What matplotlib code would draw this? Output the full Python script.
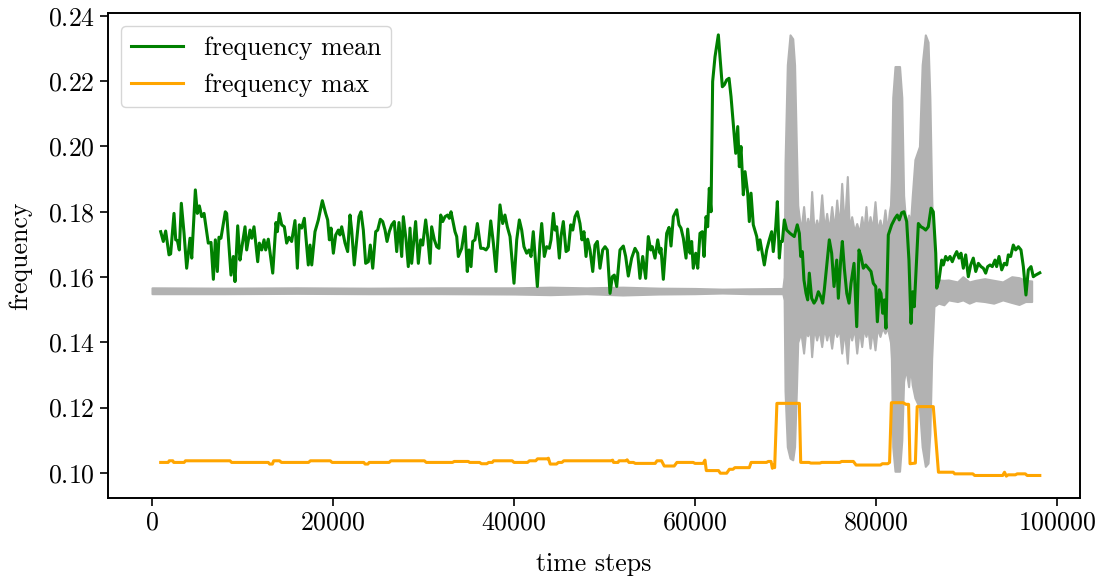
import matplotlib
matplotlib.use("Agg")
import matplotlib.pyplot as plt

plt.rcParams.update({
    "font.family": "serif",
    "font.serif": ["cmr10"],
    "mathtext.fontset": "cm",
    "axes.formatter.use_mathtext": True,
    "font.size": 18.6,
    "axes.unicode_minus": False,
})

# ---- raw frequency signal (grey), given as lower/upper envelope ----
gray_x = [0, 8000, 16000, 24000, 32000, 40000, 44000, 48000, 52000, 56000, 60000,
          63000, 66000, 69700, 69850, 69950, 70200, 70500, 70800, 71000, 71200, 71350,
          71700, 72000, 72250, 72450, 72700, 72890, 73150, 73440, 73700, 74000, 74280,
          74550, 74800, 75100, 75400, 75660, 75950, 76210, 76500, 76830, 77050, 77310,
          77600, 77870, 78150, 78420, 78650, 78890, 79100, 79340, 79600, 79890, 80150,
          80440, 80700, 80990, 81250, 81470, 81600, 81700, 81850, 82100, 82600, 82850,
          83050, 83300, 83600, 83800, 84000, 84300, 84800, 85100, 85450, 85750, 85950,
          86150, 86400, 86900, 87500, 88000, 89000, 89600, 90300, 91000,
          92000, 93000, 94000, 95000, 95800, 96500, 97200]
gray_lo = [0.1549, 0.1549, 0.1550, 0.1549, 0.1549, 0.1548, 0.1546, 0.1549, 0.1545, 0.1548, 0.1549,
           0.1551, 0.1549, 0.1549, 0.1530, 0.1250, 0.1080, 0.1045, 0.1040, 0.1080, 0.1250, 0.1400,
           0.1430, 0.1367, 0.1440, 0.1420, 0.1440, 0.1356, 0.1445, 0.1407, 0.1440, 0.1387, 0.1445,
           0.1407, 0.1440, 0.1382, 0.1445, 0.1418, 0.1440, 0.1367, 0.1440, 0.1336, 0.1440, 0.1407,
           0.1445, 0.1367, 0.1440, 0.1387, 0.1445, 0.1418, 0.1445, 0.1382, 0.1440, 0.1377, 0.1445,
           0.1418, 0.1445, 0.1428, 0.1445, 0.1418, 0.1400, 0.1350, 0.1080, 0.1005, 0.1005, 0.1100,
           0.1280, 0.1320, 0.1264, 0.1330, 0.1270, 0.1230, 0.1200, 0.1080, 0.1020, 0.1030, 0.1120,
           0.1350, 0.1510, 0.1520, 0.1515, 0.1530, 0.1525, 0.1530, 0.1520, 0.1528,
           0.1525, 0.1520, 0.1530, 0.1522, 0.1516, 0.1525, 0.1525]
gray_hi = [0.1567, 0.1566, 0.1567, 0.1566, 0.1567, 0.1567, 0.1569, 0.1567, 0.1569, 0.1566, 0.1565,
           0.1563, 0.1564, 0.1565, 0.1600, 0.1950, 0.2250, 0.2342, 0.2330, 0.2250, 0.2000, 0.1820,
           0.1740, 0.1816, 0.1740, 0.1780, 0.1745, 0.1862, 0.1740, 0.1775, 0.1745, 0.1852, 0.1745,
           0.1795, 0.1740, 0.1816, 0.1745, 0.1836, 0.1750, 0.1887, 0.1750, 0.1908, 0.1745, 0.1785,
           0.1740, 0.1764, 0.1735, 0.1785, 0.1740, 0.1816, 0.1740, 0.1785, 0.1745, 0.1831, 0.1740,
           0.1775, 0.1740, 0.1806, 0.1740, 0.1800, 0.1820, 0.1900, 0.2150, 0.2245, 0.2245, 0.2150,
           0.1850, 0.1760, 0.1790, 0.1760, 0.1846, 0.1960, 0.2000, 0.2250, 0.2342, 0.2320, 0.2150,
           0.1850, 0.1600, 0.1591, 0.1590, 0.1591, 0.1585, 0.1601, 0.1585, 0.1590,
           0.1595, 0.1590, 0.1585, 0.1601, 0.1598, 0.1590, 0.1588]

# ---- frequency mean (green) ----
mean_x = [960, 1250, 1510, 1880, 2060, 2430, 2620, 2800, 3020, 3240, 3540, 3830, 4200, 4390,
          4790, 5010, 5230, 5490, 5750, 6220, 6520, 6780, 7000, 7220, 7400, 7620, 8100, 8250,
          8430, 8730, 8990, 9170, 9470, 9720, 9910, 10280, 10460, 10830, 11020, 11270, 11680,
          11860, 12120, 12380, 12560, 12850, 13340, 13700, 13850, 14070, 14330, 14620, 14880,
          15140, 15430, 15800, 16060,
          16280, 16540, 16830, 17270, 17460, 17650, 18010, 18380, 18820, 19190, 19410, 19600,
          19780, 20040, 20300, 20590, 20770, 20960, 21330, 21620, 21880, 22060, 22350, 22620,
          22870, 23090, 23350, 23610, 23900, 24120, 24390, 24720, 24940, 25230, 25490, 25750,
          25970, 26220, 26490, 26770, 27040, 27290, 27590, 27770, 28070, 28320, 28510, 28690,
          28950, 29130, 29430, 29690, 29910, 30240, 30460, 30720, 30900, 31200, 31460, 31710,
          31900, 32120, 32380, 32670, 32850, 33040,
          33220, 33480, 33670, 33850, 34220, 34590, 34840, 35030, 35250, 35440, 35690, 35950,
          36320, 36610, 36910, 37160, 37430, 37720, 38010, 38450, 38750, 39000, 39260, 39560,
          40000, 40300, 40590, 40850, 41100, 41400, 41660, 41880, 42130, 42580, 42870, 43060,
          43350, 43610, 43900, 44090, 44350, 44530, 44720, 45010, 45190, 45450, 45750, 46000,
          46270, 46490, 46740, 47000, 47290, 47510, 47730, 47960, 48140, 48400, 48700, 48950,
          49210, 49500, 49800, 50060, 50310,
          50610, 50860, 51080, 51350, 51710, 52080, 52340, 52630, 53000, 53370, 53670, 53920,
          54220, 54550, 54840, 55100, 55280, 55580, 55880, 56130, 56240, 56500, 56870, 57130,
          57350, 57610, 57980, 58230, 58450, 58710, 59010, 59190, 59450, 59630, 59810, 60080,
          60300, 60550, 60810, 61000, 61220, 61400, 61580, 61770, 61950, 62210, 62580, 62760,
          63020, 63240, 63500, 63760, 63980, 64230, 64500, 64720, 64900, 65080, 65340, 65530,
          65820, 66000, 66190, 66440, 66820, 67000,
          67180, 67370, 67660, 67920, 68210, 68470, 68650, 68920, 69100, 69320, 69470, 69650,
          69870, 70130, 70500, 70970, 71300, 71530, 71680, 71860, 72040, 72270, 72450, 72630,
          72890, 73150, 73370, 73630, 73890, 74110, 74290, 74550, 74840, 75100, 75360, 75660,
          75840, 76100, 76280, 76500, 76770, 77020, 77240, 77570, 77870, 78120, 78340, 78600,
          78860, 79150, 79450, 79700, 79970, 80150, 80370, 80550, 80740, 80920, 81100, 81360,
          81730, 82100, 82350, 82570, 82840, 83090, 83390, 83640, 83870, 84050, 84230,
          84680, 84970, 85230, 85490, 85780, 86080, 86330, 86600, 86710, 86960, 87260, 87440,
          87700, 87920, 88180, 88430, 88650, 88920, 89170, 89390, 89650, 89910, 90200, 90460,
          90750, 91020, 91310, 91600, 91860, 92120, 92340, 92600, 92850, 93150, 93330, 93590,
          93890, 94180, 94440, 94620, 94880, 95170, 95430, 95730, 96020, 96280, 96570, 96830,
          97130, 97380, 97640, 98100]
mean_v = [0.1739, 0.1709, 0.1741, 0.1668, 0.1671, 0.1795, 0.1714, 0.1712, 0.1683, 0.1826, 0.1734, 0.1627, 0.1719, 0.1658,
          0.1867, 0.1795, 0.1818, 0.1785, 0.1795, 0.1704, 0.1706, 0.1593, 0.1714, 0.1617, 0.1722, 0.1719, 0.1800, 0.1795,
          0.1724, 0.1606, 0.1663, 0.1586, 0.1757, 0.1652, 0.1688, 0.1754, 0.1683, 0.1744, 0.1719, 0.1754, 0.1647,
          0.1704, 0.1683, 0.1714, 0.1683, 0.1716, 0.1612, 0.1767, 0.1739, 0.1795, 0.1760, 0.1754, 0.1704,
          0.1722, 0.1709, 0.1773, 0.1627,
          0.1760, 0.1750, 0.1780, 0.1637, 0.1698, 0.1637, 0.1739, 0.1775, 0.1834, 0.1795, 0.1775, 0.1714,
          0.1750, 0.1673, 0.1729, 0.1744, 0.1729, 0.1754, 0.1704, 0.1678, 0.1790, 0.1744, 0.1637, 0.1714,
          0.1785, 0.1800, 0.1744, 0.1642, 0.1647, 0.1698, 0.1627, 0.1739, 0.1744, 0.1777, 0.1770, 0.1744,
          0.1709, 0.1739, 0.1760, 0.1770, 0.1678, 0.1767, 0.1663, 0.1785, 0.1714, 0.1632, 0.1750, 0.1642,
          0.1719, 0.1770, 0.1642, 0.1714, 0.1698, 0.1775, 0.1724, 0.1642, 0.1754, 0.1714, 0.1693, 0.1688,
          0.1790, 0.1770, 0.1785, 0.1790, 0.1780, 0.1800,
          0.1775, 0.1739, 0.1724, 0.1663, 0.1688, 0.1754, 0.1617, 0.1683, 0.1632, 0.1709, 0.1714, 0.1764,
          0.1688, 0.1688, 0.1683, 0.1693, 0.1772, 0.1704, 0.1617, 0.1821, 0.1764, 0.1790, 0.1754, 0.1724,
          0.1581, 0.1714, 0.1775, 0.1744, 0.1693, 0.1673, 0.1683, 0.1663, 0.1739, 0.1571, 0.1704, 0.1764,
          0.1663, 0.1693, 0.1688, 0.1714, 0.1795, 0.1744, 0.1754, 0.1658, 0.1724, 0.1770, 0.1678, 0.1683,
          0.1760, 0.1744, 0.1785, 0.1800, 0.1764, 0.1714, 0.1739, 0.1663, 0.1716, 0.1683, 0.1617, 0.1698,
          0.1709, 0.1627, 0.1683, 0.1693, 0.1683,
          0.1550, 0.1601, 0.1606, 0.1571, 0.1683, 0.1695, 0.1663, 0.1603, 0.1658, 0.1688, 0.1673, 0.1596,
          0.1663, 0.1596, 0.1724, 0.1683, 0.1693, 0.1658, 0.1714, 0.1673, 0.1688, 0.1593, 0.1734, 0.1752,
          0.1695, 0.1785, 0.1806, 0.1760, 0.1750, 0.1719, 0.1658, 0.1747, 0.1673, 0.1709, 0.1627, 0.1673,
          0.1627, 0.1734, 0.1739, 0.1663, 0.1785, 0.1754, 0.1872, 0.1800, 0.2199, 0.2275, 0.2342, 0.2275,
          0.2183, 0.2189, 0.2204, 0.2209, 0.2153, 0.2071, 0.1979, 0.2061, 0.1938, 0.2000, 0.1852, 0.1923,
          0.1857, 0.1770, 0.1857, 0.1760, 0.1724, 0.1683,
          0.1714, 0.1683, 0.1637, 0.1683, 0.1714, 0.1739, 0.1678, 0.1754, 0.1831, 0.1658, 0.1709, 0.1709,
          0.1775, 0.1744, 0.1734, 0.1724, 0.1760, 0.1734, 0.1663, 0.1678, 0.1591, 0.1550, 0.1530, 0.1612,
          0.1535, 0.1520, 0.1530, 0.1555, 0.1540, 0.1520, 0.1561, 0.1632, 0.1714, 0.1673, 0.1571, 0.1652,
          0.1535, 0.1652, 0.1709, 0.1627, 0.1550, 0.1520, 0.1581, 0.1642, 0.1448, 0.1683, 0.1663, 0.1627,
          0.1637, 0.1627, 0.1617, 0.1581, 0.1571, 0.1463, 0.1561, 0.1550, 0.1489, 0.1530, 0.1443, 0.1729,
          0.1760, 0.1780, 0.1790, 0.1775, 0.1797, 0.1800, 0.1770, 0.1652, 0.1458, 0.1555, 0.1509,
          0.1764, 0.1754, 0.1750, 0.1744, 0.1754, 0.1811, 0.1800, 0.1673, 0.1566, 0.1591, 0.1652, 0.1637,
          0.1663, 0.1652, 0.1663, 0.1647, 0.1663, 0.1678, 0.1658, 0.1673, 0.1627, 0.1668, 0.1601, 0.1637,
          0.1658, 0.1617, 0.1642, 0.1632, 0.1627, 0.1612, 0.1632, 0.1637, 0.1632, 0.1652, 0.1632, 0.1663,
          0.1622, 0.1642, 0.1637, 0.1668, 0.1663, 0.1698, 0.1683, 0.1693, 0.1683, 0.1632, 0.1545, 0.1622,
          0.1632, 0.1601, 0.1606, 0.1613]

# ---- frequency max (orange) ----
max_x = [960, 1790, 1900, 2300, 2400, 3550, 3700, 8620, 8800, 12850, 13000, 13300, 13450, 14100,
         14300, 17300, 17500, 19700, 19900, 23400, 23550, 23850, 24000, 26200, 26400, 30100,
         30300, 33200, 33400, 34950, 35100, 36200, 36400, 37000, 37200, 37600, 37750, 39800,
         40000, 41500, 41700, 42400, 42600, 43700, 43800, 44000, 44700, 44900, 45300, 45500,
         50700, 50900, 51000, 51500, 51600, 52400, 52500, 52700, 53200, 53400, 55600, 55800,
         56300, 56600, 57700, 58000, 59800, 60000, 60900, 61100, 61250, 62600, 62800, 63500,
         63800, 64200, 64400, 66000, 66200, 67900, 68100, 68400, 68550, 68650, 68800, 69050,
         71530, 71680, 72600, 72800, 73800, 74000, 76000, 76200, 77500, 77800, 80500, 80700,
         81300, 81500, 81700, 83000, 83300, 83600, 83760, 84350, 84550, 86330, 86900, 88530,
         88700, 90700, 90900, 94000, 94200, 94400, 94600, 95400, 95600, 96500, 96700, 98100]
max_v = [0.1032, 0.1032, 0.1037, 0.1037, 0.1032, 0.1032, 0.1037, 0.1037, 0.1032, 0.1032, 0.1027, 0.1027, 0.1037, 0.1037,
         0.1032, 0.1032, 0.1037, 0.1037, 0.1032, 0.1032, 0.1027, 0.1027, 0.1032, 0.1032, 0.1037, 0.1037,
         0.1032, 0.1032, 0.1035, 0.1035, 0.1032, 0.1032, 0.1028, 0.1028, 0.1032, 0.1032, 0.1037, 0.1037,
         0.1032, 0.1032, 0.1037, 0.1037, 0.1043, 0.1043, 0.1045, 0.1027, 0.1027, 0.1032, 0.1032, 0.1037,
         0.1037, 0.1039, 0.1032, 0.1032, 0.1037, 0.1037, 0.1040, 0.1032, 0.1032, 0.1029, 0.1029, 0.1037,
         0.1037, 0.1021, 0.1021, 0.1032, 0.1032, 0.1029, 0.1029, 0.1039, 0.1007, 0.1007, 0.0999, 0.0999,
         0.1011, 0.1011, 0.1016, 0.1016, 0.1032, 0.1032, 0.1035, 0.1035, 0.1014, 0.1024, 0.1016, 0.1213,
         0.1213, 0.1032, 0.1032, 0.1030, 0.1030, 0.1032, 0.1032, 0.1035, 0.1035, 0.1024, 0.1024, 0.1028,
         0.1028, 0.1032, 0.1215, 0.1215, 0.1210, 0.1210, 0.1028, 0.1030, 0.1203, 0.1203, 0.1002, 0.1002,
         0.0997, 0.0997, 0.0992, 0.0992, 0.1002, 0.0990, 0.0994, 0.0994, 0.0997, 0.0997, 0.0992, 0.0992]

fig = plt.figure(figsize=(10.95, 5.79), dpi=100)
ax = fig.add_axes([108 / 1095, 1 - 498 / 579, (1080 - 108) / 1095, (498 - 13) / 579])

ax.fill_between(gray_x, gray_lo, gray_hi, color="#b2b2b2", edgecolor="#b2b2b2",
                linewidth=1.5, zorder=1)
ax.plot(mean_x, mean_v, color="green", linewidth=2.2, label="frequency mean", zorder=3)
ax.plot(max_x, max_v, color="orange", linewidth=2.2, label="frequency max", zorder=3)

ax.set_xlim(-4862, 102541)
ax.set_ylim(0.0923, 0.2409)
ax.set_xticks([0, 20000, 40000, 60000, 80000, 100000])
ax.set_yticks([0.10, 0.12, 0.14, 0.16, 0.18, 0.20, 0.22, 0.24])
ax.set_xlabel("time steps", labelpad=12.5)
ax.set_ylabel("frequency", labelpad=11)
ax.tick_params(length=6, width=1.2)
for s in ax.spines.values():
    s.set_linewidth(1.4)

ax.legend(loc="upper left")

fig.savefig("out.png", dpi=100)
